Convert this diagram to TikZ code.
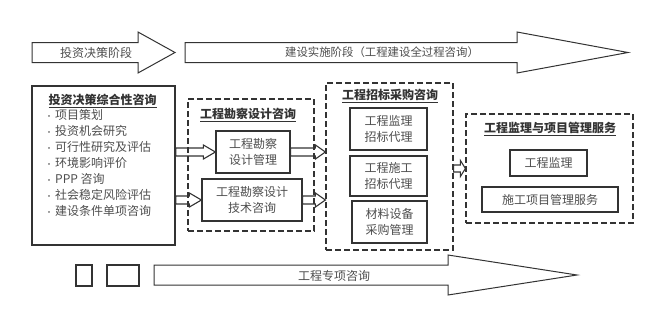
\documentclass[tikz,border=0pt]{standalone}
\usepackage{fontspec}
\setmainfont{Noto Sans CJK SC}
\usetikzlibrary{calc,positioning}
\definecolor{linec}{HTML}{333333}
\definecolor{textc}{HTML}{4D4D4D}
\tikzset{
  phase/.style={draw=linec,line width=1pt,fill=white,line join=miter},
  conn/.style={draw=linec,line width=1.1pt,line join=miter},
  box/.style={draw=linec,line width=1.2pt,inner sep=0pt,align=center,text=textc,font=\fontsize{12}{16}\selectfont},
  dbox/.style={draw=linec,line width=1.2pt,dash pattern=on 6pt off 3pt,inner sep=0pt},
  ttl/.style={font=\bfseries\fontsize{12}{14}\selectfont,text=black!80,inner sep=1pt},
  itm/.style={font=\fontsize{12}{14}\selectfont,text=textc,inner sep=0pt,anchor=west},
  lbl/.style={font=\fontsize{12}{14}\selectfont,text=textc,inner sep=0pt}
}
% block arrow: [style] start, tip, body half, head half, head length
\newcommand{\blockarr}[6][conn]{%
  \draw[#1] ($(#2)+(0,#4)$) -- ($(#3)+(-#6,#4)$) -- ($(#3)+(-#6,#5)$) -- (#3)
    -- ($(#3)+(-#6,-#5)$) -- ($(#3)+(-#6,-#4)$) -- ($(#2)+(0,-#4)$) -- cycle;}
\begin{document}
\begin{tikzpicture}[x=1pt,y=-1pt]
\useasboundingbox (0,0) rectangle (660,332);
% phase arrows
\coordinate (p1s) at (32,52.5); \coordinate (p1t) at (175,52.5);
\coordinate (p2s) at (185,52.5); \coordinate (p2t) at (628,52.5);
\coordinate (p3s) at (154,275); \coordinate (p3t) at (577,275);
\blockarr[phase]{p1s}{p1t}{10}{20.5}{37}
\blockarr[phase]{p2s}{p2t}{10}{20.5}{111}
\blockarr[phase]{p3s}{p3t}{10}{20}{129}
\node[lbl] (ph1) at (96,52.5) {投资决策阶段};
\node[lbl,font=\fontsize{11.4}{14}\selectfont] (ph2) at (382,52.5) {建设实施阶段（工程建设全过程咨询）};
\node[lbl] (ph3) at (334,276) {工程专项咨询};
\node[box,minimum width=16,minimum height=21] (sq1) at (84,275.5) {};
\node[box,minimum width=32,minimum height=21] (sq2) at (123,275.5) {};

% investment decision box
\node[box,line width=1.5pt,minimum width=143,minimum height=159] (lbox) at (103.5,165.5) {};
\node[ttl] (lttl) at (102.5,101) {\underline{投资决策综合性咨询}};
\foreach \t [count=\i from 0] in {项目策划,投资机会研究,可行性研究及评估,环境影响评价,PPP 咨询,社会稳定风险评估,建设条件单项咨询}{
 \node[itm] (it\i) at (45,{115+16*\i}) {{\fontsize{8}{8}\selectfont •}\,\t};}

% survey and design
\node[dbox,minimum width=126,minimum height=132] (surv) at (251,165) {};
\node[ttl] (sttl) at (248,115) {\underline{工程勘察设计咨询}};
\node[box,minimum width=74,minimum height=42] (survA) at (253,152) {工程勘察\\设计管理};
\node[box,minimum width=100,minimum height=42] (survB) at (252,200) {工程勘察设计\\技术咨询};

% bidding and procurement
\node[dbox,minimum width=127,minimum height=167] (bid) at (389.5,166.5) {};
\node[ttl] (bttl) at (390,96) {\underline{工程招标采购咨询}};
\node[box,minimum width=77,minimum height=42] (bidA) at (388.5,129) {工程监理\\招标代理};
\node[box,minimum width=77,minimum height=40] (bidB) at (388.5,176) {工程施工\\招标代理};
\node[box,minimum width=75,minimum height=42] (bidC) at (389.5,222) {材料设备\\采购管理};

% supervision and management
\node[dbox,minimum width=167,minimum height=109] (sup) at (549.5,168.5) {};
\node[ttl] (supttl) at (550,129) {\underline{工程监理与项目管理服务}};
\node[box,minimum width=77,minimum height=26] (supA) at (548.5,163) {工程监理};
\node[box,minimum width=136,minimum height=25] (supB) at (550,199.5) {施工项目管理服务};

% connectors
\coordinate (c1) at (lbox.east |- survA.west);
\coordinate (c2) at (lbox.east |- survB.west);
\coordinate (c3) at (bid.west |- survA.east);
\coordinate (c4) at (bid.west |- survB.east);
\coordinate (c5) at (bid.east |- sup.west);
\blockarr{c1}{survA.west}{4}{7}{12}
\blockarr{c2}{survB.west}{4}{7}{12}
\blockarr{survA.east}{c3}{4}{7}{10}
\blockarr{survB.east}{c4}{4}{7}{10}
\blockarr{c5}{sup.west}{3.5}{8}{5}
\end{tikzpicture}
\end{document}
